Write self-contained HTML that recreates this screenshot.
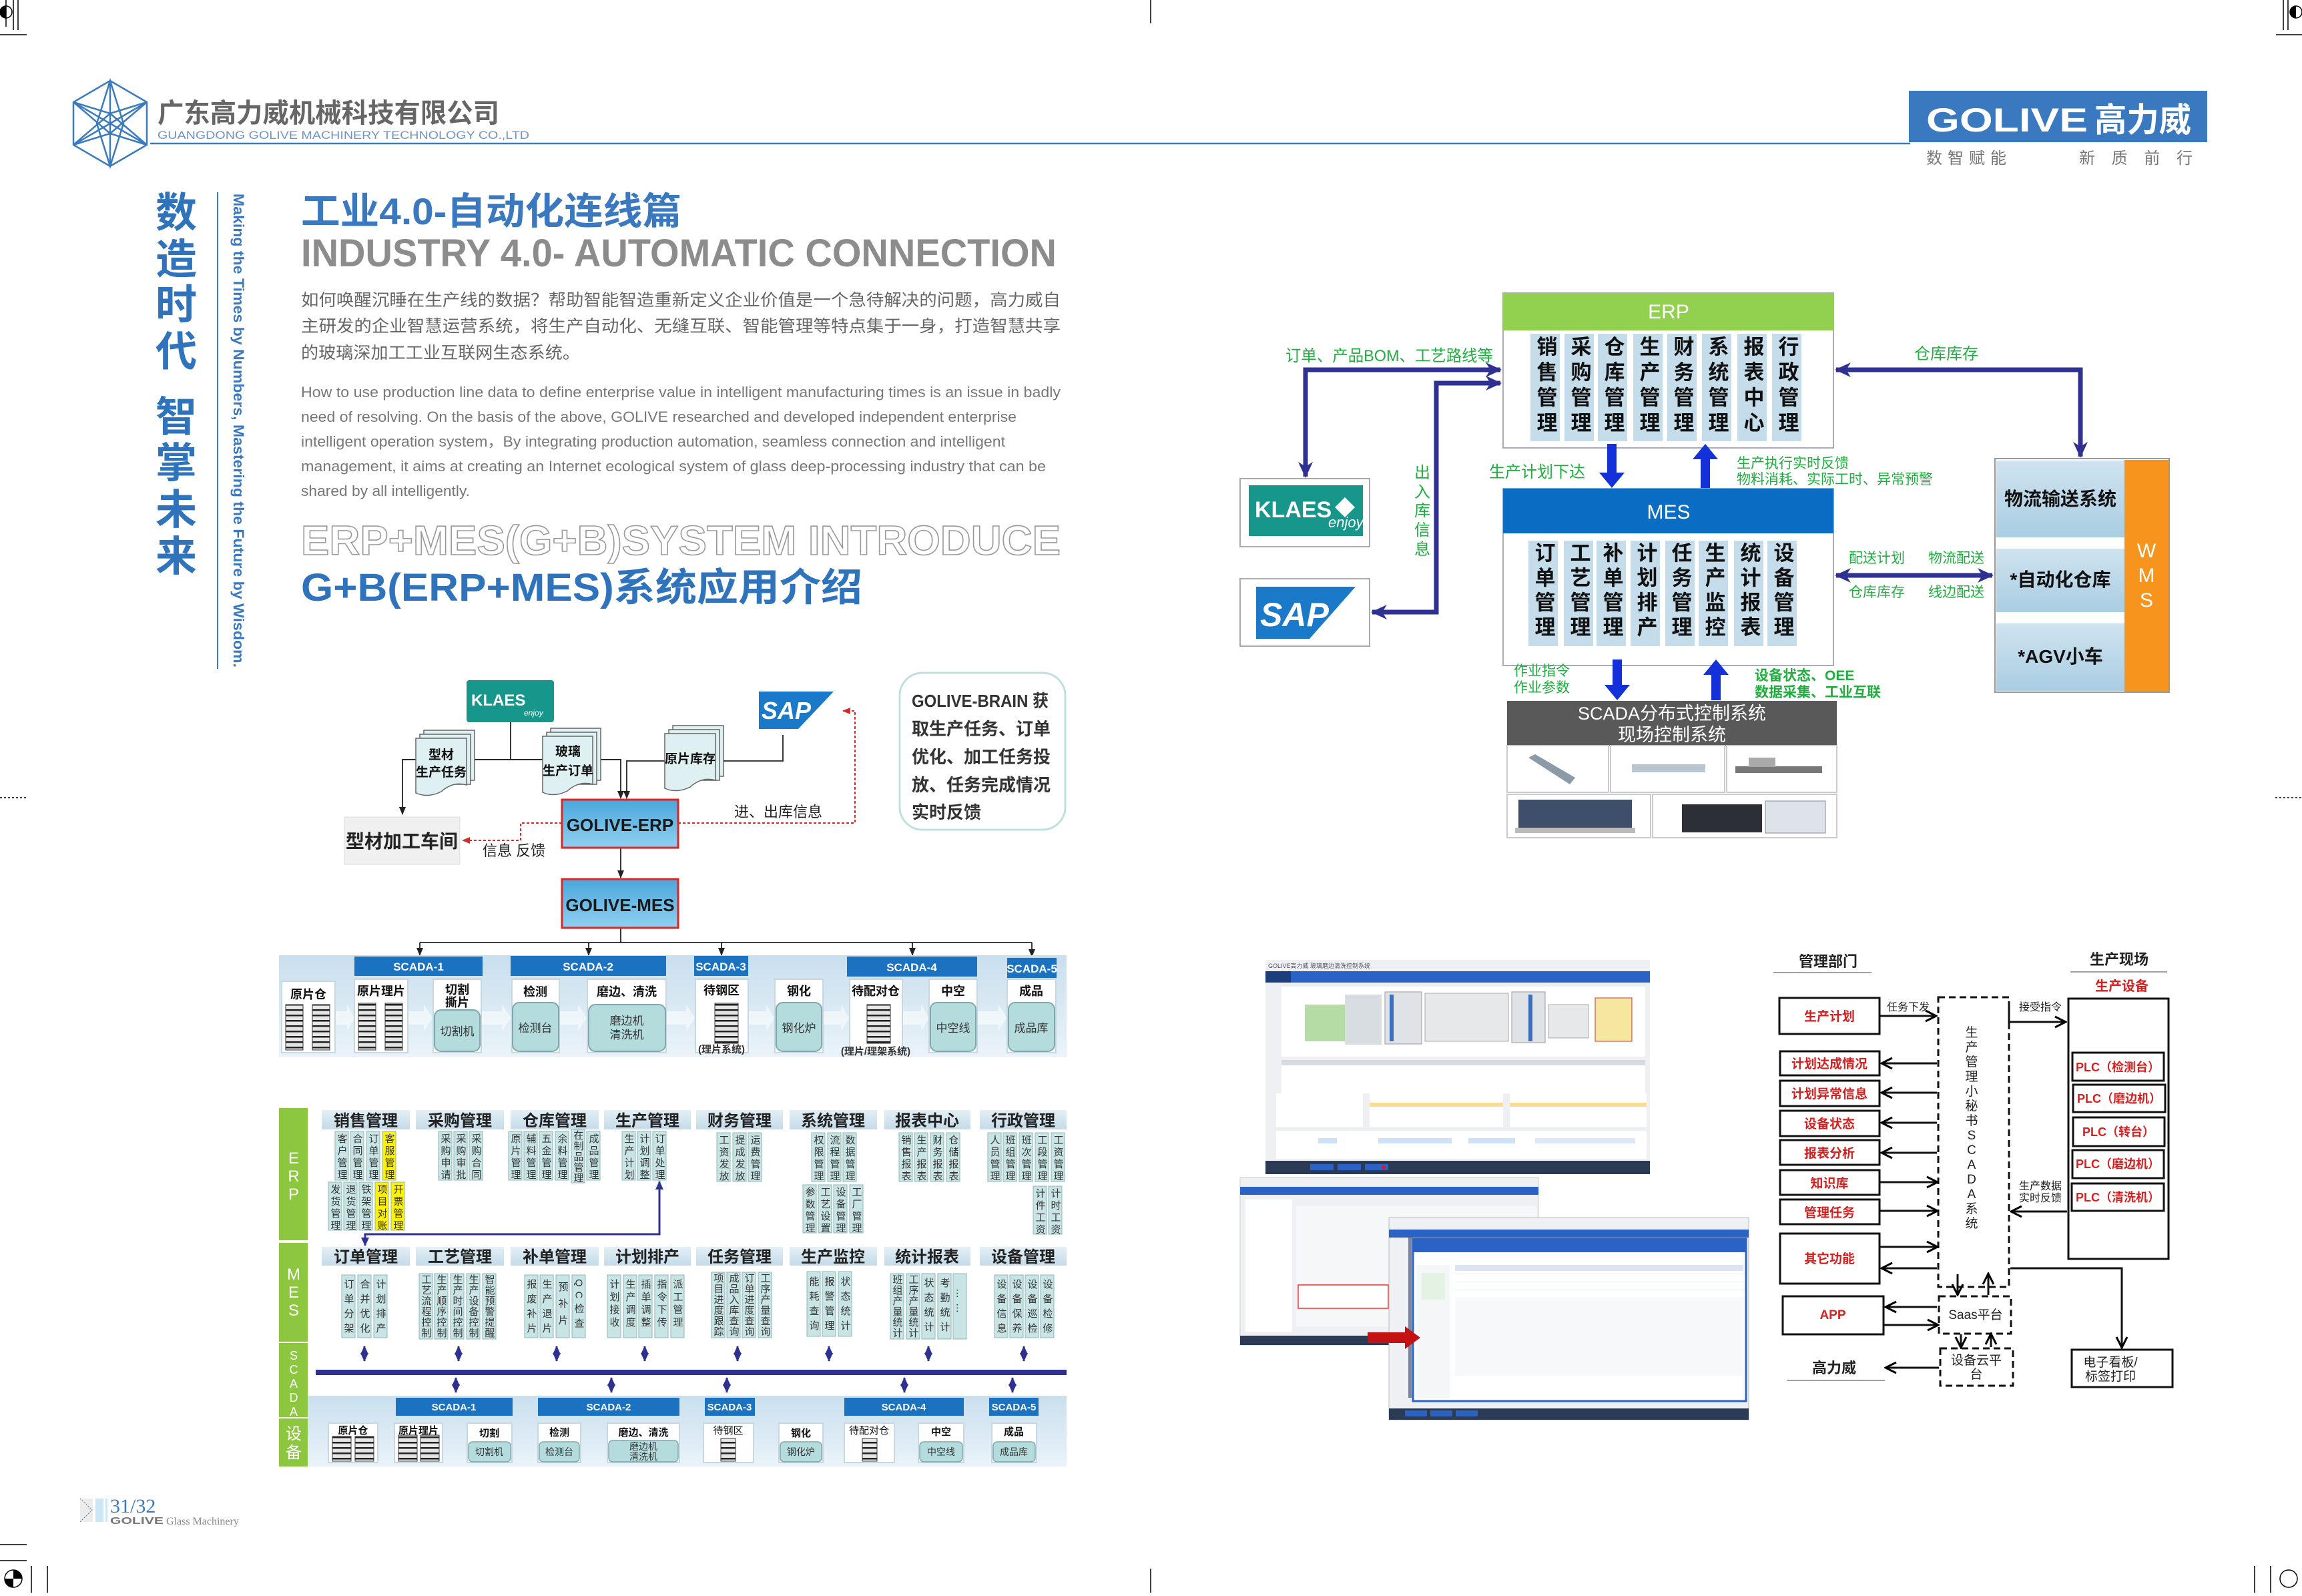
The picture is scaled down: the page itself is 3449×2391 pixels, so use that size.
<!DOCTYPE html>
<html><head><meta charset="utf-8"><style>
html,body{margin:0;padding:0;background:#fff}
svg text{font-family:"Liberation Sans","Noto Sans CJK SC",sans-serif}
.b{font-weight:bold}
.v{writing-mode:vertical-rl}
.gr{fill:#1fae3f}
.rd{fill:#d61f1f;font-weight:bold}
</style></head><body>
<svg width="3449" height="2386" viewBox="0 0 3449 2386" xmlns="http://www.w3.org/2000/svg">
<defs>
<marker id="mb" markerWidth="26" markerHeight="26" refX="22" refY="13" orient="auto-start-reverse" markerUnits="userSpaceOnUse"><path d="M0,2 L24,13 L0,24 L7,13z" fill="#2e3192"/></marker>
<marker id="mk" markerWidth="20" markerHeight="20" refX="17" refY="10" orient="auto-start-reverse" markerUnits="userSpaceOnUse"><path d="M2,2 L18,10 L2,18" fill="none" stroke="#000" stroke-width="3"/></marker>
<marker id="mk2" markerWidth="12" markerHeight="12" refX="11" refY="6" orient="auto-start-reverse" markerUnits="userSpaceOnUse"><path d="M0,1 L12,6 L0,11z" fill="#222"/></marker>
<marker id="mr" markerWidth="12" markerHeight="12" refX="11" refY="6" orient="auto-start-reverse" markerUnits="userSpaceOnUse"><path d="M0,1 L12,6 L0,11z" fill="#d42a2a"/></marker>
<marker id="mn" markerWidth="14" markerHeight="14" refX="12" refY="7" orient="auto-start-reverse" markerUnits="userSpaceOnUse"><path d="M0,1 L13,7 L0,13z" fill="#2e3192"/></marker>
<pattern id="st" width="12" height="8" patternUnits="userSpaceOnUse"><rect width="12" height="8" fill="#e6e6e6"/><rect width="12" height="2.5" fill="#222"/></pattern>
<linearGradient id="band" x1="0" y1="0" x2="0" y2="1"><stop offset="0" stop-color="#c9dfee"/><stop offset="1" stop-color="#eaf3f9"/></linearGradient>
<linearGradient id="gb" x1="0" y1="0" x2="0" y2="1"><stop offset="0" stop-color="#4aa6dc"/><stop offset="1" stop-color="#8fd0f0"/></linearGradient>
<linearGradient id="hd" x1="0" y1="0" x2="0" y2="1"><stop offset="0" stop-color="#e4eff6"/><stop offset="1" stop-color="#c4dbe9"/></linearGradient>
<linearGradient id="wm" x1="0" y1="0" x2="0" y2="1"><stop offset="0" stop-color="#cfe3ef"/><stop offset="1" stop-color="#a9cde2"/></linearGradient>
</defs>

<!-- crop marks -->
<g stroke="#000" stroke-width="1.5" fill="none">
<line x1="20" y1="0" x2="20" y2="45"/><line x1="27" y1="0" x2="27" y2="45"/><line x1="0" y1="52" x2="40" y2="52"/>
<circle cx="9" cy="18" r="9"/><line x1="9" y1="0" x2="9" y2="40"/>
<line x1="3428" y1="0" x2="3428" y2="45"/><line x1="3421" y1="0" x2="3421" y2="45"/><line x1="3410" y1="52" x2="3449" y2="52"/>
<circle cx="3440" cy="18" r="9"/>
<line x1="1724" y1="0" x2="1724" y2="35"/>
<line x1="0" y1="1195" x2="40" y2="1195" stroke-dasharray="3 3"/><line x1="3409" y1="1195" x2="3449" y2="1195" stroke-dasharray="3 3"/>
<line x1="0" y1="2314" x2="40" y2="2314"/><line x1="0" y1="2338" x2="40" y2="2338"/>
<circle cx="20" cy="2365" r="13"/><line x1="47" y1="2346" x2="47" y2="2386"/><line x1="71" y1="2346" x2="71" y2="2386"/>
<circle cx="3429" cy="2365" r="13"/><line x1="3402" y1="2346" x2="3402" y2="2386"/><line x1="3378" y1="2346" x2="3378" y2="2386"/>
<line x1="1724" y1="2350" x2="1724" y2="2386"/>
</g>
<path d="M9,18 L9,9 A9,9 0 0 0 9,27z" fill="#000"/><path d="M3440,18 L3440,9 A9,9 0 0 0 3440,27z" fill="#000"/>
<path d="M20,2365 L7,2365 A13,13 0 0 0 20,2378z M20,2365 L33,2365 A13,13 0 0 0 20,2352z" fill="#000"/>

<!-- header -->
<g stroke="#3a7bbf" stroke-width="2.5" fill="none">
<polygon points="165,121 220,153 220,217 165,249 110,217 110,153"/>
<line x1="165" y1="121" x2="165" y2="249"/><line x1="110" y1="153" x2="220" y2="217"/><line x1="110" y1="217" x2="220" y2="153"/>
<polygon points="165,121 185,185 165,249 145,185"/><polygon points="110,153 165,170 220,153 165,200"/><polygon points="110,217 165,170 220,217 165,200"/>
</g>
<text x="236" y="183" font-size="40" class="b" fill="#666" textLength="512" lengthAdjust="spacingAndGlyphs">广东高力威机械科技有限公司</text>
<text x="236" y="208" font-size="17" fill="#6f95c4" textLength="557" lengthAdjust="spacingAndGlyphs">GUANGDONG GOLIVE MACHINERY TECHNOLOGY CO.,LTD</text>
<line x1="225" y1="215" x2="2862" y2="215" stroke="#3a7bbf" stroke-width="2.5"/>
<rect x="2860" y="136" width="447" height="77" fill="#3a78bf"/>
<text x="2886" y="197" font-size="50" class="b" fill="#fff" textLength="242" lengthAdjust="spacingAndGlyphs">GOLIVE</text>
<text x="3138" y="197" font-size="50" class="b" fill="#fff" textLength="145" lengthAdjust="spacingAndGlyphs">高力威</text>
<text x="2886" y="245" font-size="24" fill="#777" textLength="120" lengthAdjust="spacing">数智赋能</text>
<text x="3115" y="245" font-size="24" fill="#777" textLength="170" lengthAdjust="spacing">新质前行</text>

<!-- left vertical slogan -->
<g font-size="62" class="b" fill="#2f73bd" text-anchor="middle">
<text x="264" y="340">数</text><text x="264" y="410">造</text><text x="264" y="478">时</text><text x="264" y="548">代</text>
<text x="264" y="646">智</text><text x="264" y="715">掌</text><text x="264" y="785">未</text><text x="264" y="855">来</text>
</g>
<line x1="326" y1="288" x2="326" y2="1002" stroke="#3a7bbf" stroke-width="2"/>
<text transform="translate(350,290) rotate(90)" font-size="22" class="b" fill="#3a78bf" textLength="710" lengthAdjust="spacingAndGlyphs">Making the Times by Numbers, Mastering the Future by Wisdom.</text>

<!-- title block -->
<text x="451" y="336" font-size="56" class="b" fill="#3a78bf" textLength="570" lengthAdjust="spacingAndGlyphs">工业4.0-自动化连线篇</text>
<text x="451" y="399" font-size="58" class="b" fill="#8c8c8c" textLength="1132" lengthAdjust="spacingAndGlyphs">INDUSTRY 4.0- AUTOMATIC CONNECTION</text>
<g font-size="25" fill="#666">
<text x="451" y="458" textLength="1138" lengthAdjust="spacingAndGlyphs">如何唤醒沉睡在生产线的数据？帮助智能智造重新定义企业价值是一个急待解决的问题，高力威自</text>
<text x="451" y="497" textLength="1138" lengthAdjust="spacingAndGlyphs">主研发的企业智慧运营系统，将生产自动化、无缝互联、智能管理等特点集于一身，打造智慧共享</text>
<text x="451" y="537" textLength="418" lengthAdjust="spacingAndGlyphs">的玻璃深加工工业互联网生态系统。</text>
</g>
<g font-size="22" fill="#777">
<text x="451" y="595" textLength="1138" lengthAdjust="spacingAndGlyphs">How to use production line data to define enterprise value in intelligent manufacturing times is an issue in badly</text>
<text x="451" y="632" textLength="1072" lengthAdjust="spacingAndGlyphs">need of resolving. On the basis of the above, GOLIVE researched and developed independent enterprise</text>
<text x="451" y="669" textLength="1055" lengthAdjust="spacingAndGlyphs">intelligent operation system，By integrating production automation, seamless connection and intelligent</text>
<text x="451" y="706" textLength="1116" lengthAdjust="spacingAndGlyphs">management, it aims at creating an Internet ecological system of glass deep-processing industry that can be</text>
<text x="451" y="743" textLength="253" lengthAdjust="spacingAndGlyphs">shared by all intelligently.</text>
</g>
<text x="451" y="831" font-size="62" class="b" fill="#fff" stroke="#9a9a9a" stroke-width="1.6" textLength="1138" lengthAdjust="spacingAndGlyphs">ERP+MES(G+B)SYSTEM INTRODUCE</text>
<text x="451" y="900" font-size="58" class="b" fill="#2f73bd" textLength="841" lengthAdjust="spacingAndGlyphs">G+B(ERP+MES)系统应用介绍</text>

<!-- ===== Top-right ERP/MES diagram ===== -->
<!-- connectors -->
<g fill="none" stroke="#2e3192" stroke-width="7">
<polyline points="2248,554 1956,554 1956,714" marker-start="url(#mb)" marker-end="url(#mb)"/>
<polyline points="2248,574 2152,574 2152,917 2056,917" marker-start="url(#mb)" marker-end="url(#mb)"/>
<polyline points="2751,554 3117,554 3117,684" marker-start="url(#mb)" marker-end="url(#mb)"/>
<line x1="2751" y1="862" x2="2985" y2="862" marker-start="url(#mb)" marker-end="url(#mb)"/>
</g>
<text x="1926" y="541" font-size="24" class="gr" textLength="311" lengthAdjust="spacingAndGlyphs">订单、产品BOM、工艺路线等</text>
<g font-size="24" class="gr" text-anchor="middle"><text x="2131" y="716">出</text><text x="2131" y="745">入</text><text x="2131" y="773">库</text><text x="2131" y="802">信</text><text x="2131" y="831">息</text></g>
<text x="2868" y="538" font-size="24" class="gr">仓库库存</text>
<g font-size="21" class="gr"><text x="2770" y="843">配送计划</text><text x="2889" y="843">物流配送</text><text x="2770" y="894">仓库库存</text><text x="2889" y="894">线边配送</text></g>
<!-- ERP -->
<rect x="2252" y="439" width="495" height="232" fill="#fff" stroke="#aab" stroke-width="2"/>
<rect x="2252" y="439" width="495" height="56" fill="#92d050"/>
<text x="2500" y="477" font-size="30" fill="#fff" text-anchor="middle">ERP</text>
<g fill="#c5dcea"><rect x="2293" y="500" width="44" height="161"/><rect x="2344" y="500" width="44" height="161"/><rect x="2394" y="500" width="44" height="161"/><rect x="2447" y="500" width="44" height="161"/><rect x="2498" y="500" width="44" height="161"/><rect x="2550" y="500" width="44" height="161"/><rect x="2603" y="500" width="44" height="161"/><rect x="2655" y="500" width="44" height="161"/></g>
<g font-size="31" class="b v" fill="#111" letter-spacing="7">
<text x="2315" y="503">销售管理</text><text x="2366" y="503">采购管理</text><text x="2416" y="503">仓库管理</text><text x="2469" y="503">生产管理</text><text x="2520" y="503">财务管理</text><text x="2572" y="503">系统管理</text><text x="2625" y="503">报表中心</text><text x="2677" y="503">行政管理</text>
</g>
<!-- MES -->
<rect x="2252" y="732" width="495" height="265" fill="#fff" stroke="#aab" stroke-width="2"/>
<rect x="2252" y="732" width="495" height="67" fill="#0a6cc2"/>
<text x="2500" y="777" font-size="30" fill="#fff" text-anchor="middle">MES</text>
<g fill="#c5dcea"><rect x="2290" y="810" width="44" height="158"/><rect x="2343" y="810" width="44" height="158"/><rect x="2392" y="810" width="44" height="158"/><rect x="2443" y="810" width="44" height="158"/><rect x="2495" y="810" width="44" height="158"/><rect x="2545" y="810" width="44" height="158"/><rect x="2598" y="810" width="44" height="158"/><rect x="2648" y="810" width="44" height="158"/></g>
<g font-size="31" class="b v" fill="#111" letter-spacing="6">
<text x="2312" y="812">订单管理</text><text x="2365" y="812">工艺管理</text><text x="2414" y="812">补单管理</text><text x="2465" y="812">计划排产</text><text x="2517" y="812">任务管理</text><text x="2567" y="812">生产监控</text><text x="2620" y="812">统计报表</text><text x="2670" y="812">设备管理</text>
</g>
<!-- thick arrows -->
<g fill="#1430d8">
<polygon points="2408,665 2422,665 2422,708 2434,708 2415,731 2396,708 2408,708"/>
<polygon points="2548,731 2562,731 2562,688 2574,688 2555,665 2536,688 2548,688"/>
<polygon points="2416,988 2430,988 2430,1026 2442,1026 2423,1049 2404,1026 2416,1026"/>
<polygon points="2564,1049 2578,1049 2578,1011 2590,1011 2571,988 2552,1011 2564,1011"/>
</g>
<text x="2231" y="715" font-size="24" class="gr">生产计划下达</text>
<text x="2602" y="701" font-size="21" class="gr">生产执行实时反馈</text>
<text x="2602" y="725" font-size="21" class="gr">物料消耗、实际工时、异常预警</text>
<text x="2268" y="1012" font-size="21" class="gr">作业指令</text><text x="2268" y="1037" font-size="21" class="gr">作业参数</text>
<text x="2629" y="1019" font-size="21" class="gr b">设备状态、OEE</text><text x="2629" y="1044" font-size="21" class="gr b">数据采集、工业互联</text>
<!-- SCADA -->
<rect x="2258" y="1050" width="494" height="67" fill="#595959"/>
<text x="2505" y="1078" font-size="27" fill="#fff" text-anchor="middle">SCADA分布式控制系统</text>
<text x="2505" y="1110" font-size="27" fill="#fff" text-anchor="middle">现场控制系统</text>
<g fill="#fff" stroke="#ccc" stroke-width="2"><rect x="2258" y="1117" width="152" height="70"/><rect x="2413" y="1117" width="171" height="70"/><rect x="2587" y="1117" width="165" height="70"/><rect x="2258" y="1190" width="215" height="65"/><rect x="2476" y="1190" width="276" height="65"/></g>
<g fill="#8a9aa6"><polygon points="2290,1135 2300,1130 2360,1165 2352,1175"/><rect x="2445" y="1145" width="110" height="12" fill="#b9c6d0"/><rect x="2600" y="1148" width="130" height="10" fill="#777"/><rect x="2620" y="1135" width="40" height="14" fill="#aaa"/>
<rect x="2275" y="1198" width="170" height="45" fill="#3d4f6a"/><rect x="2270" y="1240" width="180" height="8" fill="#bbb"/>
<rect x="2520" y="1205" width="120" height="42" fill="#2c2f35"/><rect x="2645" y="1200" width="90" height="48" fill="#dde3e8" stroke="#889" stroke-width="1"/></g>
<!-- KLAES / SAP -->
<rect x="1858" y="717" width="194" height="102" fill="#fff" stroke="#aaa" stroke-width="2"/>
<rect x="1871" y="727" width="171" height="76" fill="#17978c"/>
<text x="1880" y="775" font-size="34" class="b" fill="#fff">KLAES</text>
<text x="1990" y="790" font-size="22" fill="#fff" font-style="italic">enjoy</text>
<path d="M2015,745 l15,15 l-15,15 l-15,-15z" fill="#fff"/>
<rect x="1858" y="867" width="194" height="101" fill="#fff" stroke="#aaa" stroke-width="2"/>
<polygon points="1882,879 2031,879 1962,957 1882,957" fill="#1b79c9"/>
<text x="1888" y="938" font-size="50" class="b" fill="#fff" font-style="italic">SAP</text>
<!-- WMS -->
<rect x="2989" y="687" width="261" height="350" fill="#fff" stroke="#999" stroke-width="2"/>
<rect x="2991" y="690" width="192" height="115" fill="url(#wm)"/><rect x="2991" y="822" width="192" height="95" fill="url(#wm)"/><rect x="2991" y="934" width="192" height="101" fill="url(#wm)"/>
<rect x="3183" y="689" width="66" height="347" fill="#f7941d"/>
<g font-size="28" class="b" fill="#111" text-anchor="middle"><text x="3087" y="757">物流输送系统</text><text x="3087" y="878">*自动化仓库</text><text x="3087" y="993">*AGV小车</text></g>
<g font-size="30" fill="#fff" text-anchor="middle"><text x="3216" y="835">W</text><text x="3216" y="872">M</text><text x="3216" y="909">S</text></g>

<!-- ===== Bottom-left flow diagram ===== -->
<rect x="1348" y="1008" width="248" height="235" rx="34" fill="#fff" stroke="#bfe0dc" stroke-width="3"/>
<g font-size="26" class="b" fill="#333"><text x="1366" y="1059" textLength="205" lengthAdjust="spacingAndGlyphs">GOLIVE-BRAIN 获</text><text x="1366" y="1101">取生产任务、订单</text><text x="1366" y="1143">优化、加工任务投</text><text x="1366" y="1185">放、任务完成情况</text><text x="1366" y="1226">实时反馈</text></g>
<rect x="699" y="1019" width="131" height="63" rx="4" fill="#17978c"/>
<text x="706" y="1057" font-size="24" class="b" fill="#fff">KLAES</text><text x="785" y="1072" font-size="12" fill="#fff" font-style="italic">enjoy</text>
<polygon points="1137,1036 1249,1036 1196,1092 1137,1092" fill="#1b79c9"/>
<text x="1141" y="1077" font-size="36" class="b" fill="#fff" font-style="italic">SAP</text>
<g fill="none" stroke="#222" stroke-width="1.8">
<line x1="765" y1="1082" x2="765" y2="1138"/>
<polyline points="930,1138 603,1138 603,1220" marker-end="url(#mk2)"/>
<polyline points="603,1138 930,1138 930,1196" marker-end="url(#mk2)"/>
<polyline points="1173,1101 1173,1140 939,1140 939,1196" marker-end="url(#mk2)"/>
<line x1="930" y1="1270" x2="930" y2="1315" marker-end="url(#mk2)"/>
<line x1="930" y1="1390" x2="930" y2="1412"/>
<line x1="629" y1="1412" x2="1546" y2="1412"/>
<line x1="629" y1="1412" x2="629" y2="1431" marker-end="url(#mk2)"/><line x1="882" y1="1412" x2="882" y2="1431" marker-end="url(#mk2)"/><line x1="1081" y1="1412" x2="1081" y2="1431" marker-end="url(#mk2)"/><line x1="1367" y1="1412" x2="1367" y2="1431" marker-end="url(#mk2)"/><line x1="1546" y1="1412" x2="1546" y2="1433" marker-end="url(#mk2)"/>
</g>
<g fill="none" stroke="#d42a2a" stroke-width="2" stroke-dasharray="4 3">
<polyline points="1016,1233 1281,1233 1281,1065 1263,1065" marker-end="url(#mr)"/>
<polyline points="842,1233 780,1233 780,1259 693,1259" marker-end="url(#mr)"/>
</g>
<text x="1100" y="1224" font-size="22" fill="#222">进、出库信息</text>
<text x="723" y="1282" font-size="22" fill="#222">信息  反馈</text>
<!-- doc stacks -->
<g fill="#dff0f2" stroke="#666" stroke-width="1.5">
<path d="M635,1094 h76 v75 h-76z"/><path d="M629,1100 h76 v75 h-76z"/><path d="M623,1106 h76 v70 q-20,-6 -38,10 q-20,10 -38,2z"/>
<path d="M825,1091 h75 v78 h-75z"/><path d="M819,1097 h75 v78 h-75z"/><path d="M813,1103 h75 v72 q-20,-6 -38,10 q-20,10 -37,2z"/>
<path d="M1008,1087 h76 v76 h-76z"/><path d="M1002,1093 h76 v76 h-76z"/><path d="M996,1099 h76 v70 q-20,-6 -38,10 q-20,10 -38,2z"/>
</g>
<g font-size="19" class="b" fill="#111" text-anchor="middle"><text x="661" y="1137">型材</text><text x="661" y="1163">生产任务</text><text x="851" y="1132">玻璃</text><text x="851" y="1161">生产订单</text><text x="1034" y="1143">原片库存</text></g>
<rect x="516" y="1224" width="173" height="71" fill="#f0f0f0" stroke="#ddd"/>
<text x="602" y="1270" font-size="28" class="b" fill="#222" text-anchor="middle">型材加工车间</text>
<rect x="842" y="1198" width="174" height="72" fill="url(#gb)" stroke="#e02424" stroke-width="3"/>
<text x="929" y="1245" font-size="26" class="b" fill="#1a1a1a" text-anchor="middle">GOLIVE-ERP</text>
<rect x="842" y="1317" width="174" height="73" fill="url(#gb)" stroke="#e02424" stroke-width="3"/>
<text x="929" y="1365" font-size="26" class="b" fill="#1a1a1a" text-anchor="middle">GOLIVE-MES</text>
<!-- band -->
<rect x="418" y="1431" width="1180" height="153" fill="url(#band)"/>
<g fill="#1a72c0"><rect x="531" y="1433" width="192" height="29"/><rect x="765" y="1432" width="233" height="30"/><rect x="1040" y="1432" width="81" height="30"/><rect x="1269" y="1433" width="195" height="30"/><rect x="1509" y="1435" width="74" height="30"/></g>
<g font-size="17" class="b" fill="#fff" text-anchor="middle"><text x="627" y="1454">SCADA-1</text><text x="881" y="1454">SCADA-2</text><text x="1080" y="1454">SCADA-3</text><text x="1366" y="1455">SCADA-4</text><text x="1546" y="1457">SCADA-5</text></g>
<g fill="#f2f8fb" opacity="0.9">
<polygon points="503,1515 520,1515 520,1505 531,1525 520,1545 520,1535 503,1535"/><polygon points="612,1515 635,1515 635,1505 648,1525 635,1545 635,1535 612,1535"/><polygon points="722,1515 752,1515 752,1505 766,1525 752,1545 752,1535 722,1535"/><polygon points="839,1515 866,1515 866,1505 879,1525 866,1545 866,1535 839,1535"/><polygon points="999,1515 1028,1515 1028,1505 1041,1525 1028,1545 1028,1535 999,1535"/><polygon points="1122,1515 1148,1515 1148,1505 1160,1525 1148,1545 1148,1535 1122,1535"/><polygon points="1234,1515 1260,1515 1260,1505 1272,1525 1260,1545 1260,1535 1234,1535"/><polygon points="1353,1515 1380,1515 1380,1505 1392,1525 1380,1545 1380,1535 1353,1535"/><polygon points="1465,1515 1496,1515 1496,1505 1508,1525 1496,1545 1496,1535 1465,1535"/>
</g>
<g fill="#fff" stroke="#c8d8e0" stroke-width="2">
<rect x="422" y="1470" width="80" height="107"/><rect x="531" y="1467" width="80" height="110"/><rect x="649" y="1467" width="72" height="110"/><rect x="767" y="1467" width="71" height="110"/><rect x="880" y="1467" width="118" height="110"/><rect x="1042" y="1467" width="79" height="110"/><rect x="1161" y="1467" width="72" height="110"/><rect x="1273" y="1467" width="79" height="110"/><rect x="1392" y="1467" width="72" height="110"/><rect x="1509" y="1467" width="73" height="110"/>
</g>
<g fill="#b5dcdd" stroke="#7fa7ae" stroke-width="2">
<rect x="651" y="1513" width="68" height="62" rx="10"/><rect x="768" y="1502" width="69" height="73" rx="10"/><rect x="882" y="1505" width="115" height="70" rx="10"/><rect x="1163" y="1502" width="68" height="73" rx="10"/><rect x="1394" y="1502" width="68" height="73" rx="10"/><rect x="1511" y="1502" width="69" height="73" rx="10"/>
</g>
<g stroke="#333" stroke-width="1"><rect x="428" y="1505" width="26" height="68" fill="url(#st)"/><rect x="468" y="1505" width="26" height="68" fill="url(#st)"/><rect x="537" y="1503" width="26" height="70" fill="url(#st)"/><rect x="577" y="1503" width="26" height="70" fill="url(#st)"/><rect x="1071" y="1503" width="35" height="60" fill="url(#st)"/><rect x="1299" y="1505" width="35" height="58" fill="url(#st)"/></g>
<g font-size="18" class="b" fill="#111" text-anchor="middle"><text x="462" y="1496">原片仓</text><text x="571" y="1491">原片理片</text><text x="685" y="1489">切割</text><text x="685" y="1508">撕片</text><text x="802" y="1492">检测</text><text x="939" y="1492">磨边、清洗</text><text x="1081" y="1490">待钢区</text><text x="1197" y="1491">钢化</text><text x="1312" y="1491">待配对仓</text><text x="1428" y="1491">中空</text><text x="1545" y="1491">成品</text></g>
<g font-size="17" fill="#333" text-anchor="middle"><text x="685" y="1551">切割机</text><text x="802" y="1546">检测台</text><text x="939" y="1535">磨边机</text><text x="939" y="1556">清洗机</text><text x="1197" y="1546">钢化炉</text><text x="1428" y="1546">中空线</text><text x="1545" y="1546">成品库</text><text x="1081" y="1577" font-size="15" class="b">(理片系统)</text><text x="1312" y="1580" font-size="15" class="b">(理片/理架系统)</text></g>

<!-- ===== Bottom-left table ===== -->
<rect x="461" y="1660" width="1137" height="537" fill="#fff"/>
<g fill="#8dc63f"><rect x="418" y="1660" width="43" height="198"/><rect x="418" y="1862" width="43" height="148"/><rect x="418" y="2012" width="43" height="111"/><rect x="418" y="2125" width="43" height="72"/></g>
<g font-size="24" fill="#fff" text-anchor="middle"><text x="440" y="1743">E</text><text x="440" y="1770">R</text><text x="440" y="1797">P</text><text x="440" y="1917">M</text><text x="440" y="1944">E</text><text x="440" y="1971">S</text>
<text x="440" y="2037" font-size="18">S</text><text x="440" y="2058" font-size="18">C</text><text x="440" y="2079" font-size="18">A</text><text x="440" y="2100" font-size="18">D</text><text x="440" y="2121" font-size="18">A</text><text x="440" y="2156">设</text><text x="440" y="2184">备</text></g>
<g fill="url(#hd)"><rect x="482" y="1663" width="132" height="29"/><rect x="623" y="1663" width="132" height="29"/><rect x="765" y="1663" width="132" height="29"/><rect x="905" y="1663" width="130" height="29"/><rect x="1043" y="1663" width="130" height="29"/><rect x="1183" y="1663" width="131" height="29"/><rect x="1325" y="1663" width="129" height="29"/><rect x="1468" y="1663" width="130" height="29"/>
<rect x="482" y="1868" width="132" height="28"/><rect x="623" y="1868" width="132" height="28"/><rect x="765" y="1868" width="132" height="28"/><rect x="905" y="1868" width="130" height="28"/><rect x="1043" y="1868" width="130" height="28"/><rect x="1183" y="1868" width="131" height="28"/><rect x="1325" y="1868" width="129" height="28"/><rect x="1468" y="1868" width="130" height="28"/></g>
<g font-size="24" class="b" fill="#222" text-anchor="middle"><text x="548" y="1687">销售管理</text><text x="689" y="1687">采购管理</text><text x="831" y="1687">仓库管理</text><text x="970" y="1687">生产管理</text><text x="1108" y="1687">财务管理</text><text x="1248" y="1687">系统管理</text><text x="1389" y="1687">报表中心</text><text x="1533" y="1687">行政管理</text>
<text x="548" y="1891">订单管理</text><text x="689" y="1891">工艺管理</text><text x="831" y="1891">补单管理</text><text x="970" y="1891">计划排产</text><text x="1108" y="1891">任务管理</text><text x="1248" y="1891">生产监控</text><text x="1389" y="1891">统计报表</text><text x="1533" y="1891">设备管理</text></g>
<!-- ERP strips -->
<g fill="#c8e4e4" stroke="#8fb5b8" stroke-width="1">
<rect x="502" y="1695" width="20" height="73"/><rect x="525" y="1695" width="20" height="73"/><rect x="549" y="1695" width="20" height="73"/><rect x="573" y="1695" width="20" height="73" fill="#fff200"/>
<rect x="492" y="1771" width="20" height="72"/><rect x="515" y="1771" width="20" height="72"/><rect x="538" y="1771" width="20" height="72"/><rect x="562" y="1771" width="20" height="72" fill="#fff200"/><rect x="586" y="1771" width="20" height="72" fill="#fff200"/>
<rect x="657" y="1695" width="20" height="73"/><rect x="680" y="1695" width="20" height="73"/><rect x="703" y="1695" width="20" height="73"/>
<rect x="762" y="1695" width="20" height="73"/><rect x="785" y="1695" width="20" height="73"/><rect x="808" y="1695" width="20" height="73"/><rect x="832" y="1695" width="20" height="73"/><rect x="856" y="1692" width="20" height="80"/><rect x="879" y="1695" width="20" height="73"/>
<rect x="932" y="1695" width="20" height="73"/><rect x="955" y="1695" width="20" height="73"/><rect x="978" y="1695" width="20" height="73"/>
<rect x="1074" y="1697" width="20" height="73"/><rect x="1098" y="1697" width="20" height="73"/><rect x="1121" y="1697" width="20" height="73"/>
<rect x="1216" y="1697" width="20" height="73"/><rect x="1240" y="1697" width="20" height="73"/><rect x="1263" y="1697" width="20" height="73"/>
<rect x="1203" y="1775" width="20" height="72"/><rect x="1226" y="1775" width="20" height="72"/><rect x="1249" y="1775" width="20" height="72"/><rect x="1273" y="1775" width="20" height="72"/>
<rect x="1347" y="1697" width="20" height="73"/><rect x="1370" y="1697" width="20" height="73"/><rect x="1394" y="1697" width="20" height="73"/><rect x="1418" y="1697" width="20" height="73"/>
<rect x="1480" y="1697" width="20" height="73"/><rect x="1503" y="1697" width="20" height="73"/><rect x="1527" y="1697" width="20" height="73"/><rect x="1551" y="1697" width="20" height="73"/><rect x="1575" y="1697" width="20" height="73"/>
<rect x="1548" y="1777" width="20" height="72"/><rect x="1571" y="1777" width="20" height="72"/>
</g>
<g font-size="15" class="v" fill="#333" letter-spacing="3">
<text x="512" y="1698">客户管理</text><text x="535" y="1698">合同管理</text><text x="559" y="1698">订单管理</text><text x="583" y="1698">客服管理</text>
<text x="502" y="1774">发货管理</text><text x="525" y="1774">退货管理</text><text x="548" y="1774">铁架管理</text><text x="572" y="1774">项目对账</text><text x="596" y="1774">开票管理</text>
<text x="667" y="1698">采购申请</text><text x="690" y="1698">采购审批</text><text x="713" y="1698">采购合同</text>
<text x="772" y="1698">原片管理</text><text x="795" y="1698">辅料管理</text><text x="818" y="1698">五金管理</text><text x="842" y="1698">余料管理</text><text x="866" y="1693" letter-spacing="1">在制品管理</text><text x="889" y="1698">成品管理</text>
<text x="942" y="1698">生产计划</text><text x="965" y="1698">计划调整</text><text x="988" y="1698">订单处理</text>
<text x="1084" y="1700">工资发放</text><text x="1108" y="1700">提成发放</text><text x="1131" y="1700">运费管理</text>
<text x="1226" y="1700">权限管理</text><text x="1250" y="1700">流程管理</text><text x="1273" y="1700">数据管理</text>
<text x="1213" y="1778">参数管理</text><text x="1236" y="1778">工艺设置</text><text x="1259" y="1778">设备管理</text><text x="1283" y="1778">工厂管理</text>
<text x="1357" y="1700">销售报表</text><text x="1380" y="1700">生产报表</text><text x="1404" y="1700">财务报表</text><text x="1428" y="1700">仓储报表</text>
<text x="1490" y="1700">人员管理</text><text x="1513" y="1700">班组管理</text><text x="1537" y="1700">班次管理</text><text x="1561" y="1700">工段管理</text><text x="1585" y="1700">工资管理</text>
<text x="1558" y="1780">计件工资</text><text x="1581" y="1780">计时工资</text>
</g>
<polyline points="988,1770 988,1849 547,1849 547,1866" fill="none" stroke="#2e3192" stroke-width="3" marker-start="url(#mn)" marker-end="url(#mn)"/>
<!-- MES strips -->
<g fill="#c8e4e4" stroke="#8fb5b8" stroke-width="1">
<rect x="512" y="1910" width="20" height="94"/><rect x="536" y="1910" width="20" height="94"/><rect x="560" y="1910" width="20" height="94"/>
<rect x="628" y="1908" width="20" height="98"/><rect x="651" y="1908" width="20" height="98"/><rect x="675" y="1908" width="20" height="98"/><rect x="699" y="1908" width="20" height="98"/><rect x="723" y="1908" width="20" height="98"/>
<rect x="786" y="1910" width="20" height="94"/><rect x="809" y="1910" width="20" height="94"/><rect x="833" y="1910" width="20" height="94"/><rect x="857" y="1910" width="20" height="94"/>
<rect x="910" y="1910" width="20" height="94"/><rect x="934" y="1910" width="20" height="94"/><rect x="957" y="1910" width="20" height="94"/><rect x="981" y="1910" width="20" height="94"/><rect x="1005" y="1910" width="20" height="94"/>
<rect x="1066" y="1906" width="20" height="98"/><rect x="1089" y="1906" width="20" height="98"/><rect x="1112" y="1906" width="20" height="98"/><rect x="1136" y="1906" width="20" height="98"/>
<rect x="1209" y="1905" width="20" height="97"/><rect x="1232" y="1905" width="20" height="97"/><rect x="1256" y="1905" width="20" height="97"/>
<rect x="1334" y="1908" width="20" height="98"/><rect x="1358" y="1908" width="20" height="98"/><rect x="1381" y="1908" width="20" height="98"/><rect x="1405" y="1908" width="20" height="98"/><rect x="1428" y="1908" width="20" height="98"/>
<rect x="1490" y="1910" width="20" height="94"/><rect x="1513" y="1910" width="20" height="94"/><rect x="1536" y="1910" width="20" height="94"/><rect x="1559" y="1910" width="20" height="94"/>
</g>
<g font-size="15" class="v" fill="#333">
<g letter-spacing="7"><text x="522" y="1916">订单分架</text><text x="546" y="1916">合并优化</text><text x="570" y="1916">计划排产</text>
<text x="796" y="1916">报废补片</text><text x="819" y="1916">生产退片</text><text x="843" y="1920" letter-spacing="10">预补片</text><text x="867" y="1916">QC检查</text>
<text x="1219" y="1912">能耗查询</text><text x="1242" y="1912">报警管理</text><text x="1266" y="1912">状态统计</text>
<text x="1391" y="1914">状态统计</text><text x="1415" y="1914">考勤统计</text><text x="1438" y="1930">……</text>
<text x="1500" y="1916">设备信息</text><text x="1523" y="1916">设备保养</text><text x="1546" y="1916">设备巡检</text><text x="1569" y="1916">设备检修</text>
<text x="920" y="1916" letter-spacing="4">计划接收</text><text x="944" y="1916" letter-spacing="4">生产调度</text><text x="967" y="1916" letter-spacing="4">插单调整</text><text x="991" y="1916" letter-spacing="4">指令下传</text><text x="1015" y="1916" letter-spacing="4">派工管理</text></g>
<g letter-spacing="1"><text x="638" y="1909">工艺流程控制</text><text x="661" y="1909">生产顺序控制</text><text x="685" y="1909">生产时间控制</text><text x="709" y="1909">生产设备控制</text><text x="733" y="1909">智能预警提醒</text>
<text x="1076" y="1907">项目进度跟踪</text><text x="1099" y="1907">成品入库查询</text><text x="1122" y="1907">订单进度查询</text><text x="1146" y="1907">工序产量查询</text>
<text x="1344" y="1909">班组产量统计</text><text x="1368" y="1909">工序产量统计</text></g>
</g>
<!-- bus and double arrows -->
<g stroke="#2e3192" stroke-width="3" fill="none">
<line x1="546" y1="2017" x2="546" y2="2039" marker-start="url(#mn)" marker-end="url(#mn)"/><line x1="687" y1="2017" x2="687" y2="2039" marker-start="url(#mn)" marker-end="url(#mn)"/><line x1="834" y1="2017" x2="834" y2="2039" marker-start="url(#mn)" marker-end="url(#mn)"/><line x1="966" y1="2017" x2="966" y2="2039" marker-start="url(#mn)" marker-end="url(#mn)"/><line x1="1105" y1="2017" x2="1105" y2="2039" marker-start="url(#mn)" marker-end="url(#mn)"/><line x1="1242" y1="2017" x2="1242" y2="2039" marker-start="url(#mn)" marker-end="url(#mn)"/><line x1="1391" y1="2017" x2="1391" y2="2039" marker-start="url(#mn)" marker-end="url(#mn)"/><line x1="1534" y1="2017" x2="1534" y2="2039" marker-start="url(#mn)" marker-end="url(#mn)"/>
<line x1="683" y1="2064" x2="683" y2="2086" marker-start="url(#mn)" marker-end="url(#mn)"/><line x1="916" y1="2064" x2="916" y2="2086" marker-start="url(#mn)" marker-end="url(#mn)"/><line x1="1089" y1="2064" x2="1089" y2="2086" marker-start="url(#mn)" marker-end="url(#mn)"/><line x1="1355" y1="2064" x2="1355" y2="2086" marker-start="url(#mn)" marker-end="url(#mn)"/><line x1="1517" y1="2064" x2="1517" y2="2086" marker-start="url(#mn)" marker-end="url(#mn)"/>
</g>
<rect x="473" y="2052" width="1125" height="8" fill="#2e3192"/>
<rect x="461" y="2091" width="1137" height="106" fill="url(#band)"/>
<g fill="#1a72c0"><rect x="593" y="2094" width="175" height="27"/><rect x="806" y="2094" width="212" height="27"/><rect x="1056" y="2094" width="75" height="27"/><rect x="1265" y="2094" width="179" height="27"/><rect x="1482" y="2094" width="74" height="27"/></g>
<g font-size="15" class="b" fill="#fff" text-anchor="middle"><text x="680" y="2113">SCADA-1</text><text x="912" y="2113">SCADA-2</text><text x="1093" y="2113">SCADA-3</text><text x="1354" y="2113">SCADA-4</text><text x="1519" y="2113">SCADA-5</text></g>
<g fill="#fff" stroke="#c8d8e0" stroke-width="2"><rect x="492" y="2132" width="74" height="59"/><rect x="591" y="2132" width="72" height="59"/><rect x="700" y="2132" width="67" height="59"/><rect x="806" y="2132" width="64" height="59"/><rect x="910" y="2132" width="108" height="59"/><rect x="1054" y="2132" width="75" height="59"/><rect x="1167" y="2132" width="66" height="59"/><rect x="1265" y="2132" width="75" height="59"/><rect x="1376" y="2132" width="68" height="59"/><rect x="1486" y="2132" width="67" height="59"/></g>
<g fill="#b5dcdd" stroke="#7fa7ae" stroke-width="1.5"><rect x="702" y="2160" width="63" height="30" rx="6"/><rect x="808" y="2160" width="60" height="30" rx="6"/><rect x="912" y="2158" width="104" height="32" rx="6"/><rect x="1169" y="2160" width="62" height="30" rx="6"/><rect x="1378" y="2160" width="64" height="30" rx="6"/><rect x="1488" y="2160" width="63" height="30" rx="6"/></g>
<g stroke="#333" stroke-width="1"><rect x="498" y="2152" width="28" height="37" fill="url(#st)"/><rect x="532" y="2152" width="28" height="37" fill="url(#st)"/><rect x="597" y="2150" width="28" height="39" fill="url(#st)"/><rect x="630" y="2150" width="28" height="39" fill="url(#st)"/><rect x="1080" y="2155" width="22" height="34" fill="url(#st)"/><rect x="1292" y="2155" width="22" height="34" fill="url(#st)"/></g>
<g font-size="15" class="b" fill="#111" text-anchor="middle"><text x="529" y="2148">原片仓</text><text x="627" y="2148">原片理片</text><text x="733" y="2152">切割</text><text x="838" y="2151">检测</text><text x="964" y="2151">磨边、清洗</text><text x="1091" y="2148" font-weight="normal">待钢区</text><text x="1200" y="2152">钢化</text><text x="1302" y="2148" font-weight="normal">待配对仓</text><text x="1410" y="2150">中空</text><text x="1519" y="2150">成品</text></g>
<g font-size="14" fill="#333" text-anchor="middle"><text x="733" y="2180">切割机</text><text x="838" y="2180">检测台</text><text x="964" y="2172">磨边机</text><text x="964" y="2187">清洗机</text><text x="1200" y="2180">钢化炉</text><text x="1410" y="2180">中空线</text><text x="1519" y="2180">成品库</text></g>

<!-- ===== Screenshots ===== -->
<g>
<rect x="1896" y="1438" width="576" height="321" fill="#eef0f3"/>
<text x="1900" y="1450" font-size="9" fill="#556">GOLIVE高力威  玻璃磨边清洗控制系统</text>
<rect x="1896" y="1455" width="576" height="17" fill="#2a62c6"/><rect x="1896" y="1455" width="38" height="17" fill="#1d3e7c"/>
<rect x="1920" y="1478" width="545" height="105" fill="#fff"/>
<rect x="1955" y="1505" width="60" height="55" fill="#b6dca6"/><rect x="2015" y="1490" width="55" height="75" fill="#d8dde2"/><rect x="2075" y="1486" width="55" height="78" fill="#dfe3e7" stroke="#999"/><rect x="2082" y="1490" width="6" height="70" fill="#3c6fc0"/><rect x="2135" y="1488" width="125" height="72" fill="#e6e8ea" stroke="#aaa"/><rect x="2265" y="1486" width="50" height="76" fill="#dfe3e7" stroke="#999"/><rect x="2290" y="1490" width="6" height="70" fill="#3c6fc0"/><rect x="2320" y="1505" width="60" height="50" fill="#e6e8ea" stroke="#aaa"/><rect x="2390" y="1495" width="55" height="65" fill="#f5e7a0" stroke="#c33"/>
<rect x="1920" y="1588" width="545" height="50" fill="#fff"/><rect x="1920" y="1588" width="545" height="8" fill="#d7dbe0"/>
<rect x="1912" y="1638" width="130" height="50" fill="#fff"/><rect x="2052" y="1638" width="200" height="50" fill="#fff"/><rect x="2052" y="1652" width="200" height="6" fill="#fbdc94"/><rect x="2262" y="1638" width="205" height="50" fill="#fff"/><rect x="2262" y="1652" width="205" height="6" fill="#fbdc94"/>
<rect x="1912" y="1694" width="555" height="42" fill="#fff"/><rect x="1975" y="1705" width="28" height="8" fill="#cfe0fa"/><rect x="2065" y="1705" width="110" height="8" fill="#cfe0fa"/><rect x="2200" y="1705" width="70" height="8" fill="#cfe0fa"/><rect x="2300" y="1705" width="150" height="8" fill="#dde8fb"/>
<rect x="1896" y="1739" width="576" height="20" fill="#2b3a55"/><rect x="1963" y="1744" width="35" height="9" fill="#2a62c6"/><rect x="2004" y="1744" width="35" height="9" fill="#2a62c6"/><rect x="2045" y="1744" width="35" height="9" fill="#2a62c6"/><circle cx="2073" cy="1749" r="3" fill="#e11"/>
</g>
<g>
<rect x="1858" y="1764" width="447" height="251" fill="#eef0f3" stroke="#ccc"/>
<rect x="1858" y="1778" width="447" height="12" fill="#2a62c6"/>
<rect x="1866" y="1797" width="70" height="198" fill="#fff"/><rect x="1942" y="1807" width="360" height="180" fill="#f6f7f8"/>
<rect x="1945" y="1925" width="135" height="35" fill="#fff" stroke="#e33" stroke-width="1.5"/>
<rect x="1858" y="2001" width="447" height="14" fill="#2b3a55"/>
</g>
<g>
<rect x="2081" y="1824" width="539" height="303" fill="#eef0f3" stroke="#bbb"/>
<rect x="2081" y="1842" width="539" height="12" fill="#2a62c6"/>
<rect x="2110" y="1854" width="5" height="240" fill="#7a86a0"/>
<rect x="2117" y="1856" width="499" height="243" fill="#fff" stroke="#2a62c6" stroke-width="3"/>
<rect x="2117" y="1856" width="499" height="20" fill="#2a62c6"/>
<rect x="2122" y="1895" width="50" height="200" fill="#f4f6f8"/><rect x="2130" y="1907" width="35" height="40" fill="#e3f2e3"/>
<rect x="2180" y="1895" width="432" height="9" fill="#dbe4f0"/>
<g fill="#e8ecf0"><rect x="2180" y="1908" width="432" height="1"/><rect x="2180" y="1920" width="432" height="1"/><rect x="2180" y="1932" width="432" height="1"/><rect x="2180" y="1944" width="432" height="1"/></g>
<rect x="2180" y="1946" width="432" height="115" fill="#f7f8f9"/>
<rect x="2081" y="2110" width="539" height="17" fill="#2b3a55"/><rect x="2105" y="2113" width="33" height="9" fill="#2a62c6"/><rect x="2143" y="2113" width="33" height="9" fill="#2a62c6"/><rect x="2181" y="2113" width="33" height="9" fill="#2a62c6"/>
</g>
<polygon points="2049,1996 2105,1996 2105,1987 2128,2004 2105,2021 2105,2012 2049,2012" fill="#c41212"/>

<!-- ===== Bottom-right flow ===== -->
<g font-size="22" class="b" fill="#222" text-anchor="middle"><text x="2739" y="1448">管理部门</text><text x="3175" y="1445">生产现场</text></g>
<line x1="2657" y1="1457" x2="2804" y2="1457" stroke="#444"/><line x1="3102" y1="1456" x2="3247" y2="1456" stroke="#444"/>
<text x="3179" y="1484" font-size="20" class="rd" text-anchor="middle">生产设备</text>
<g fill="#fff" stroke="#111" stroke-width="3">
<rect x="2666" y="1495" width="150" height="54"/><rect x="2667" y="1575" width="149" height="36"/><rect x="2667" y="1619" width="149" height="38"/><rect x="2667" y="1664" width="149" height="38"/><rect x="2667" y="1708" width="149" height="37"/><rect x="2667" y="1753" width="149" height="37"/><rect x="2667" y="1797" width="149" height="37"/><rect x="2667" y="1848" width="149" height="75"/><rect x="2671" y="1942" width="151" height="57"/>
<rect x="3099" y="1496" width="150" height="390"/>
<rect x="3105" y="1577" width="137" height="42"/><rect x="3106" y="1625" width="138" height="41"/><rect x="3106" y="1674" width="137" height="43"/><rect x="3105" y="1723" width="137" height="42"/><rect x="3104" y="1773" width="138" height="41"/>
<rect x="3104" y="2022" width="151" height="56"/>
</g>
<g font-size="19" class="rd" text-anchor="middle"><text x="2741" y="1529">生产计划</text><text x="2741" y="1600">计划达成情况</text><text x="2741" y="1645">计划异常信息</text><text x="2741" y="1690">设备状态</text><text x="2741" y="1734">报表分析</text><text x="2741" y="1779">知识库</text><text x="2741" y="1823">管理任务</text><text x="2741" y="1892">其它功能</text><text x="2746" y="1976">APP</text></g>
<g font-size="18" class="rd" text-anchor="middle"><text x="3173" y="1605">PLC（检测台）</text><text x="3175" y="1652">PLC（磨边机）</text><text x="3174" y="1702">PLC（转台）</text><text x="3173" y="1750">PLC（磨边机）</text><text x="3173" y="1800">PLC（清洗机）</text></g>
<text x="2748" y="2057" font-size="22" class="b" fill="#222" text-anchor="middle">高力威</text>
<line x1="2677" y1="2068" x2="2824" y2="2068" stroke="#444"/>
<g fill="none" stroke="#111" stroke-width="3" stroke-dasharray="10 6">
<rect x="2904" y="1494" width="106" height="434"/><rect x="2905" y="1942" width="108" height="56"/><rect x="2907" y="2020" width="109" height="56"/>
</g>
<g font-size="19" fill="#222" text-anchor="middle"><text x="2954" y="1553">生</text><text x="2954" y="1575">产</text><text x="2954" y="1597">管</text><text x="2954" y="1619">理</text><text x="2954" y="1641">小</text><text x="2954" y="1663">秘</text><text x="2954" y="1685">书</text><text x="2954" y="1707">S</text><text x="2954" y="1729">C</text><text x="2954" y="1751">A</text><text x="2954" y="1773">D</text><text x="2954" y="1795">A</text><text x="2954" y="1817">系</text><text x="2954" y="1839">统</text>
<text x="2960" y="1976">Saas平台</text><text x="2961" y="2044">设备云平</text><text x="2961" y="2065">台</text>
<text x="3162" y="2047">电子看板/</text><text x="3162" y="2068">标签打印</text></g>
<g font-size="16" fill="#222"><text x="2827" y="1514">任务下发</text><text x="3025" y="1514">接受指令</text><text x="3025" y="1782">生产数据</text><text x="3025" y="1800">实时反馈</text></g>
<g fill="none" stroke="#111" stroke-width="3">
<line x1="2816" y1="1522" x2="2900" y2="1522" marker-end="url(#mk)"/>
<line x1="2902" y1="1593" x2="2820" y2="1593" marker-end="url(#mk)"/><line x1="2902" y1="1637" x2="2820" y2="1637" marker-end="url(#mk)"/><line x1="2902" y1="1682" x2="2820" y2="1682" marker-end="url(#mk)"/><line x1="2902" y1="1727" x2="2820" y2="1727" marker-end="url(#mk)"/>
<line x1="2816" y1="1771" x2="2902" y2="1771" marker-end="url(#mk)"/><line x1="2816" y1="1814" x2="2902" y2="1814" marker-end="url(#mk)"/><line x1="2816" y1="1868" x2="2902" y2="1868" marker-end="url(#mk)"/>
<line x1="2902" y1="1900" x2="2820" y2="1900" marker-end="url(#mk)"/><line x1="2902" y1="1958" x2="2826" y2="1958" marker-end="url(#mk)"/><line x1="2822" y1="1985" x2="2903" y2="1985" marker-end="url(#mk)"/>
<line x1="2905" y1="2049" x2="2826" y2="2049" marker-end="url(#mk)"/>
<polyline points="3010,1506 3010,1531 3094,1531" marker-end="url(#mk)"/>
<line x1="3097" y1="1815" x2="3014" y2="1815" marker-end="url(#mk)"/>
<polyline points="3012,1900 3179,1900 3179,2018" marker-end="url(#mk)"/>
<line x1="2933" y1="1909" x2="2933" y2="1939" marker-end="url(#mk)"/><line x1="2979" y1="1940" x2="2979" y2="1909" marker-end="url(#mk)"/>
<line x1="2938" y1="1999" x2="2938" y2="2018" marker-end="url(#mk)"/><line x1="2983" y1="2018" x2="2983" y2="1999" marker-end="url(#mk)"/>
</g>

<!-- footer -->
<rect x="120" y="2245" width="19" height="35" fill="#ececec"/><polyline points="120,2245 138,2262 120,2280" fill="none" stroke="#4a7cc0" stroke-dasharray="2 2"/><rect x="143" y="2245" width="12" height="35" fill="#cde6f6"/><rect x="158" y="2245" width="3" height="35" fill="#cde6f6"/>
<text x="165" y="2266" font-size="30" fill="#3a7bbf" font-family="Liberation Serif,serif" style="font-family:'Liberation Serif',serif">31/32</text>
<text x="165" y="2283" font-size="15" class="b" fill="#777" textLength="80" lengthAdjust="spacingAndGlyphs">GOLIVE</text>
<text x="249" y="2284" font-size="16" fill="#888" style="font-family:'Liberation Serif',serif">Glass Machinery</text>
</svg>
</body></html>
